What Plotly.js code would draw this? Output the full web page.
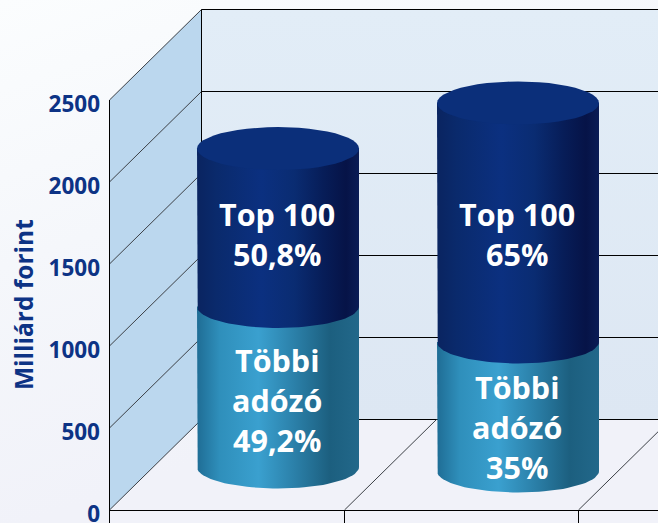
<!DOCTYPE html>
<html>
<head>
<meta charset="utf-8">
<script src="https://cdn.plot.ly/plotly-3.0.1.min.js"></script>
<style>
html,body{margin:0;padding:0;width:658px;height:523px;overflow:hidden;background:linear-gradient(160deg,#fbfdfe 0%,#f5f7fb 35%,#f1f2f9 70%,#f1f2f9 100%);}
#c{width:658px;height:523px;}
</style>
</head>
<body>
<div id="c"></div>
<script>
// Data
const tickValues = [0, 500, 1000, 1500, 2000, 2500];
const otherValues = [979, 787];     // "Többi adózó"
const top100Values = [963, 1457];   // "Top 100"
const top100Labels = [["Top 100", "50,8%"], ["Top 100", "65%"]];
const otherLabels = [["Többi", "adózó", "49,2%"], ["Többi", "adózó", "35%"]];
const axisTitle = "Milliárd forint";

// Geometry of the pseudo-3D scene
const W = 658, H = 523, L = 109, FLOOR = 510, CAT = 234.5, PXU = 0.164;
const X = p => (p - L) / CAT;
const Y = p => (FLOOR - p) / PXU;
const xMax = X(W), yMax = Y(0), yMin = Y(H);
const depthX = 92 / CAT, depthY = 90.5 / PXU;
const centers = [278, 518];
const radiusX = 81, radiusY = 21.5 / PXU;
const bases = [Y(467), Y(471)];
const top100LabelPx = [[214, 254], [214, 254]];
const otherLabelPx = [[360, 400, 440], [387, 427, 467]];
const floorTickPx = [109.5, 344.5, 578.5];

const DARK = "#0b2f7a", TICK = "#0d3385";
const darkScale = [[0, "#0a2460"], [0.12, "#0a2a6c"], [0.4, "#0b3080"], [0.6, "#0a2c72"], [0.78, "#071d58"], [0.92, "#061347"], [1, "#0a1c55"]];
const lightScale = [[0, "#1f6d95"], [0.14, "#2f8fbb"], [0.38, "#3aa0cf"], [0.6, "#2b80a9"], [0.82, "#1c5f7f"], [1, "#22688a"]];

const traces = [];
function poly(xs, ys, extra) {
  traces.push(Object.assign({x: xs, y: ys, type: "scatter", mode: "lines", hoverinfo: "skip", showlegend: false, line: {width: 0}}, extra));
}
function seg(x0, y0, x1, y1, color, w) {
  poly([x0, x1], [y0, y1], {line: {color: color, width: w}});
}
const x0 = X(floorTickPx[0]);
// walls
poly([x0, x0 + depthX, x0 + depthX, x0, x0], [0, depthY, 2500 + depthY, 2500, 0], {fill: "toself", fillcolor: "#bbd7ee"});
poly([x0 + depthX, xMax, xMax, x0 + depthX, x0 + depthX], [depthY, depthY, 2500 + depthY, 2500 + depthY, depthY], {
  fill: "toself",
  fillgradient: {type: "vertical", colorscale: [[0, "#dde7f3"], [1, "#e2edf7"]]}
});
// grid
tickValues.forEach(v => {
  seg(x0, v, x0 + depthX, v + depthY, "#3c4046", 1);
  seg(x0 + depthX, v + depthY, xMax, v + depthY, "#000000", 1);
});
seg(x0 + depthX, depthY, x0 + depthX, 2500 + depthY, "#000000", 1);
floorTickPx.forEach((p, i) => {
  if (i > 0) seg(X(p), 0, X(p) + depthX, depthY, "#3c4046", 1);
  seg(X(p), i > 0 ? Y(510.5) : 2500, X(p), yMin, "#000000", 1);
});
seg(x0, Y(510.5), xMax, Y(510.5), "#000000", 1);

// cylinders
function arc(cx, cy, from, to) {
  const xs = [], ys = [], n = 48;
  for (let i = 0; i <= n; i++) {
    const a = from + (to - from) * i / n;
    xs.push(X(cx + radiusX * Math.cos(a)));
    ys.push(cy + radiusY * Math.sin(a));
  }
  return [xs, ys];
}
function body(cx, yBottom, yTop, scale) {
  const [ax, ay] = arc(cx, yBottom, Math.PI, 2 * Math.PI);
  const xs = [X(cx - radiusX)].concat(ax, [X(cx + radiusX), X(cx - radiusX)]);
  const ys = [yTop].concat(ay, [yTop, yTop]);
  poly(xs, ys, {fill: "toself", fillgradient: {type: "horizontal", colorscale: scale}});
}
centers.forEach((cx, i) => {
  const b = bases[i], mid = b + otherValues[i], top = mid + top100Values[i];
  body(cx, b, mid, lightScale);
  body(cx, mid, top, darkScale);
  const [ex, ey] = arc(cx, top, 0, 2 * Math.PI);
  poly(ex, ey, {fill: "toself", fillcolor: DARK});
});

// labels
const annotations = [];
function label(cx, py, text) {
  annotations.push({x: X(cx), y: Y(py), xref: "x", yref: "y", text: text, showarrow: false, xanchor: "center", yanchor: "middle",
    font: {family: "Open Sans", size: 30.5, color: "#ffffff", weight: 700}});
}
centers.forEach((cx, i) => {
  top100Labels[i].forEach((t, j) => label(cx - 1, top100LabelPx[i][j], t));
  otherLabels[i].forEach((t, j) => label(cx - 1, otherLabelPx[i][j], t));
});
annotations.push({xref: "paper", x: -86 / 549, yref: "y", y: 1250, text: axisTitle, showarrow: false, textangle: -90,
  xanchor: "center", yanchor: "middle", font: {family: "Open Sans", size: 24.5, color: TICK, weight: 700}});

Plotly.newPlot("c", traces, {
  width: W, height: H,
  margin: {l: L, r: 0, t: 0, b: 0, pad: 0},
  paper_bgcolor: "rgba(0,0,0,0)", plot_bgcolor: "rgba(0,0,0,0)",
  showlegend: false,
  xaxis: {range: [0, xMax], visible: false, fixedrange: true},
  yaxis: {range: [yMin, yMax], tickvals: tickValues, ticktext: tickValues.map(String), ticks: "", showgrid: false, zeroline: false, showline: false,
    tickfont: {family: "Open Sans", size: 22.5, color: TICK, weight: 700}, ticklabelstandoff: 8, ticklabelshift: 4, ticklabeloverflow: "allow", fixedrange: true},
  annotations: annotations
}, {displayModeBar: false, staticPlot: true});
</script>
</body>
</html>
